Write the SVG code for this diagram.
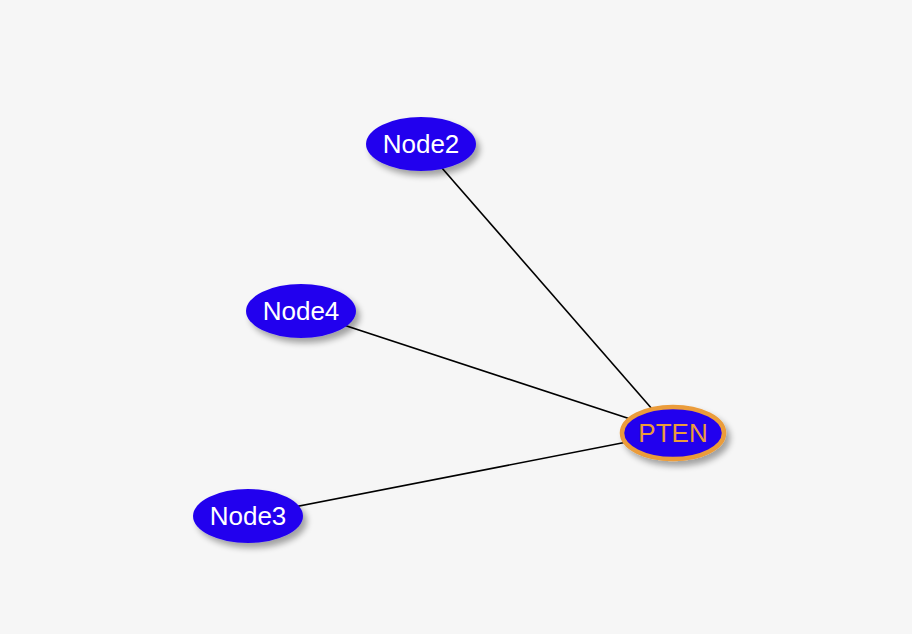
<svg xmlns="http://www.w3.org/2000/svg" width="912" height="634" viewBox="0 0 912 634">
<style>
.node ellipse{fill:#2200ee;filter:url(#sh)}
.node text{font-family:"Liberation Sans",Arial,sans-serif;font-size:26px;fill:#ffffff;text-anchor:middle;dominant-baseline:central}
#PTEN ellipse{stroke:#eb9c3a;stroke-width:4.5}
#PTEN text{fill:#eb9c3a}
.edge{stroke:#000;stroke-width:1.6;fill:none}
</style>
<defs>
<filter id="sh" x="-30%" y="-40%" width="160%" height="190%">
<feGaussianBlur in="SourceAlpha" stdDeviation="3"/>
<feOffset dx="4" dy="5" result="b"/>
<feComponentTransfer><feFuncA type="linear" slope="0.35"/></feComponentTransfer>
<feMerge><feMergeNode/><feMergeNode in="SourceGraphic"/></feMerge>
</filter>
</defs>
<rect width="912" height="634" fill="#f6f6f6"/>
<g id="connectors">
<line class="edge" x1="421" y1="144" x2="673" y2="433"/>
<line class="edge" x1="301" y1="311" x2="673" y2="433"/>
<line class="edge" x1="248" y1="516" x2="673" y2="433"/>
</g>
<g id="Node2" class="node"><ellipse cx="421" cy="144" rx="55" ry="27"/><text x="421" y="144">Node2</text></g>
<g id="Node4" class="node"><ellipse cx="301" cy="311" rx="55" ry="27"/><text x="301" y="311">Node4</text></g>
<g id="Node3" class="node"><ellipse cx="248" cy="516" rx="55" ry="27"/><text x="248" y="516">Node3</text></g>
<g id="PTEN" class="node"><ellipse cx="673" cy="433" rx="51" ry="26"/><text x="673" y="433">PTEN</text></g>
</svg>
